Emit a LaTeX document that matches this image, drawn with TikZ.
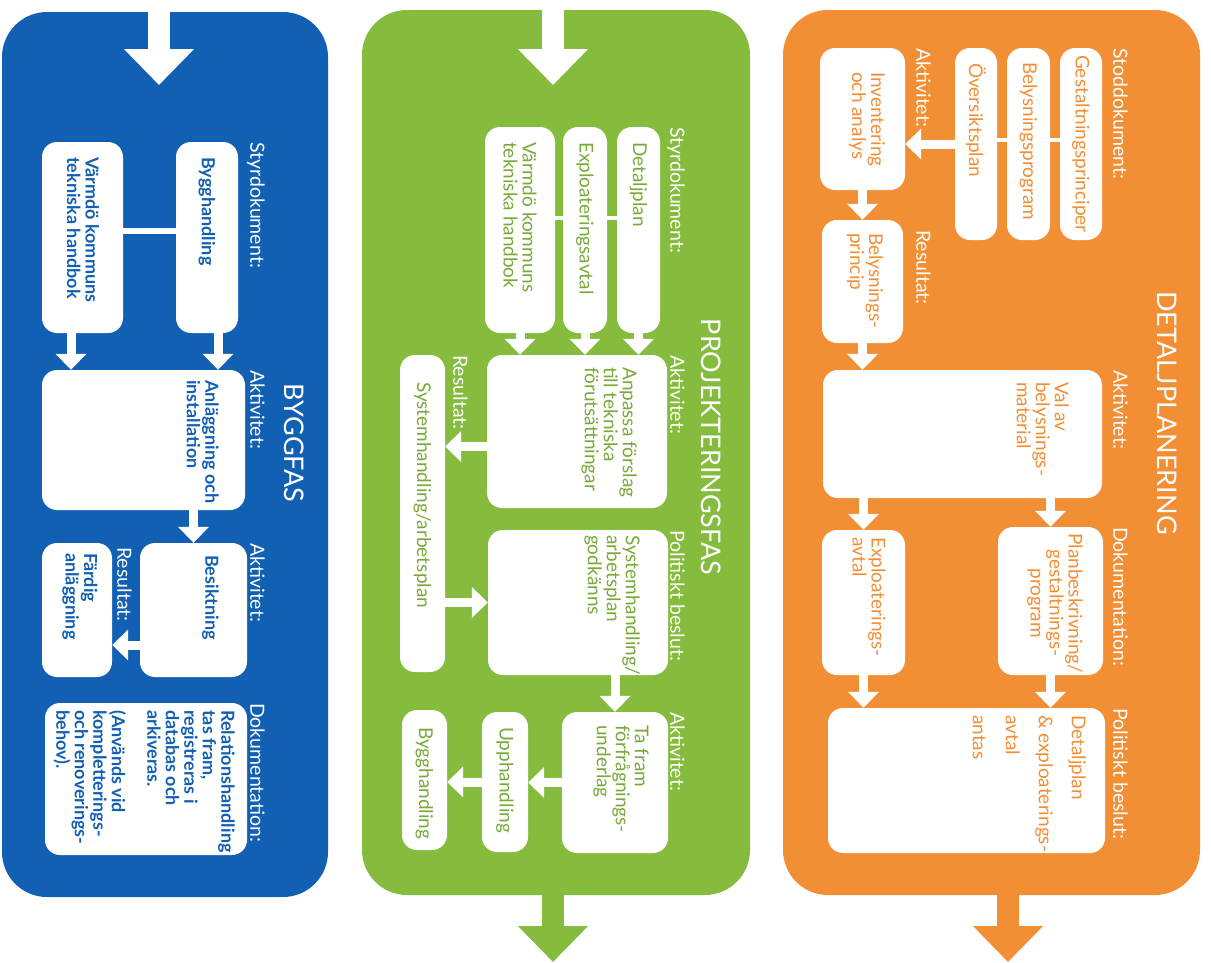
\documentclass[tikz,border=0pt]{standalone}
\usepackage{fontspec}
\setmainfont{Lato}
\usetikzlibrary{arrows.meta,positioning}

\definecolor{byggblue}{RGB}{18,96,180}
\definecolor{projgreen}{RGB}{134,188,62}
\definecolor{detorange}{RGB}{242,142,52}

\tikzset{
  panel/.style={fill=#1, rounded corners=45pt, inner sep=0pt},
  box/.style={fill=white, rounded corners=15pt, inner sep=0pt},
  txt/.style={rotate=-90, inner sep=0pt, align=left, font=\fontsize{19}{19}\selectfont},
  btxt/.style={txt, text=byggblue, font=\fontsize{18}{18.5}\selectfont\bfseries},
  lbl/.style={rotate=-90, inner sep=0pt, anchor=north west, text=white, font=\fontsize{19.5}{20}\selectfont},
  ttl/.style={rotate=-90, inner sep=0pt, text=white, font=\fontsize{27}{30}\selectfont},
  warr/.style={draw=white, line width=9pt, -{Triangle[width=30pt,length=16pt]}},
  bigarr/.style={line width=22pt, -{Triangle[width=68pt,length=36pt]}},
  tie/.style={draw=white, line width=4pt},
}

\begin{document}
\begin{tikzpicture}[x=1pt,y=-1pt]
  \useasboundingbox (0,0) rectangle (1211,962);

  % panels
  \node[panel=byggblue, minimum width=326pt, minimum height=885pt] (bPanel) at (165,454.5) {};
  \node[panel=projgreen, minimum width=388pt, minimum height=885pt] (gPanel) at (556,452.5) {};
  \node[panel=detorange, minimum width=417pt, minimum height=885pt] (oPanel) at (991.5,452.5) {};

  \coordinate (bIn) at (159,0);
  \coordinate (bInTip) at (159,85);
  \coordinate (gIn) at (553,0);
  \coordinate (gInTip) at (553,85);
  \coordinate (gOut) at (553,962);
  \coordinate (oOut) at (1008,962);
  \draw[bigarr, white] (bIn) -- (bInTip);
  \draw[bigarr, white] (gIn) -- (gInTip);
  \draw[bigarr, projgreen] (gOut |- gPanel.south) -- (gOut);
  \draw[bigarr, detorange] (oOut |- oPanel.south) -- (oOut);

  % ---- Byggfas
  \node[ttl] (bTitle) at (294,443) {BYGGFAS};
  \node[box, minimum width=62pt, minimum height=191pt] (bByg) at (207,237.5) {};
  \node[box, minimum width=81pt, minimum height=191pt] (bHand) at (82.5,237.5) {};
  \node[box, minimum width=203pt, minimum height=140pt] (bAnl) at (143.5,440) {};
  \node[box, minimum width=107pt, minimum height=134pt] (bBes) at (193.5,610) {};
  \node[box, minimum width=70pt, minimum height=134pt] (bFard) at (77,610) {};
  \node[box, minimum width=202pt, minimum height=152pt] (bRel) at (146,779) {};

  \node[lbl] (bL1) at (265,142) {Styrdokument:};
  \node[lbl] (bL2) at (265,370) {Aktivitet:};
  \node[lbl] (bL3) at (265,543) {Aktivitet:};
  \node[lbl] (bL4) at (132,547) {Resultat:};
  \node[lbl] (bL5) at (265,703) {Dokumentation:};

  \node[btxt, anchor=west] (bBygT) at (207,157) {Bygghandling};
  \node[btxt, anchor=west] (bHandT) at (83,157) {Värmdö kommuns\\tekniska handbok};
  \node[btxt, anchor=north west] (bAnlT) at (219,380) {Anläggning och\\installation};
  \node[btxt, anchor=north west] (bBesT) at (219,555) {Besiktning};
  \node[btxt, anchor=west] (bFardT) at (80,553) {Färdig\\anläggning};
  \node[btxt, anchor=north west] (bRelT) at (235,710) {Relationshandling\\tas fram,\\registreras i\\databas och\\arkiveras.\\[17pt](Används vid\\kompletterings-\\och renoverings-\\behov).};

  \draw[tie, line width=6pt] ([yshift=6.5pt]bHand.east) -- ([yshift=6.5pt]bByg.west);
  \draw[warr] ([xshift=11pt]bByg.south) -- ([xshift=11pt]bByg.south |- bAnl.north);
  \draw[warr] ([xshift=-11.5pt]bHand.south) -- ([xshift=-11.5pt]bHand.south |- bAnl.north);
  \draw[warr] (bAnl.south -| bBes.north) -- (bBes.north);
  \draw[warr] ([yshift=-35pt]bBes.west) -- ([yshift=-35pt]bBes.west -| bFard.east);

  % ---- Projekteringsfas
  \node[ttl] (gTitle) at (711,447) {PROJEKTERINGSFAS};
  \node[box, minimum width=43pt, minimum height=206pt] (gDet) at (638.5,230) {};
  \node[box, minimum width=44pt, minimum height=206pt] (gExp) at (585,230) {};
  \node[box, minimum width=70pt, minimum height=206pt] (gHand) at (520,230) {};
  \node[box, minimum width=180pt, minimum height=153pt] (gAnp) at (577,431.5) {};
  \node[box, minimum width=45pt, minimum height=317pt] (gSys) at (422.5,513.5) {};
  \node[box, minimum width=180pt, minimum height=145pt] (gGod) at (578,602.5) {};
  \node[box, minimum width=106pt, minimum height=141pt] (gTa) at (615,782.5) {};
  \node[box, minimum width=46pt, minimum height=140pt] (gUpp) at (505,782) {};
  \node[box, minimum width=45pt, minimum height=140pt] (gByg) at (424.5,780) {};

  \node[lbl] (gL1) at (685,127) {Styrdokument:};
  \node[lbl] (gL2) at (685,355) {Aktivitet:};
  \node[lbl] (gL3) at (468,355) {Resultat:};
  \node[lbl] (gL4) at (685,530) {Politiskt beslut:};
  \node[lbl] (gL5) at (685,712) {Aktivitet:};

  \begin{scope}[every node/.append style={text=projgreen!90!black}]
    \node[txt, anchor=west] (gDetT) at (638.5,142) {Detaljplan};
    \node[txt, anchor=west] (gExpT) at (585,142) {Exploateringsavtal};
    \node[txt, anchor=west] (gHandT) at (520,142) {Värmdö kommuns\\tekniska handbok};
    \node[txt, anchor=north west] (gAnpT) at (637,367) {Anpassa förslag\\till tekniska\\förutsättningar};
    \node[txt, anchor=west] (gSysT) at (422.5,382) {Systemhandling/arbetsplan};
    \node[txt, anchor=north west] (gGodT) at (640,535) {Systemhandling/\\arbetsplan\\godkänns};
    \node[txt, anchor=north west] (gTaT) at (649,725) {Ta fram\\förfrågnings-\\underlag};
    \node[txt, anchor=west] (gUppT) at (505,727) {Upphandling};
    \node[txt, anchor=west] (gBygT) at (424.5,727) {Bygghandling};
  \end{scope}

  \draw[tie] ([yshift=12pt]gHand.east) -- ([yshift=12pt]gExp.west);
  \draw[tie] ([yshift=12pt]gExp.east) -- ([yshift=12pt]gDet.west);
  \draw[warr] (gDet.south) -- (gDet.south |- gAnp.north);
  \draw[warr] (gExp.south) -- (gExp.south |- gAnp.north);
  \draw[warr] (gHand.south) -- (gHand.south |- gAnp.north);
  \draw[warr] ([yshift=-15pt]gAnp.west) -- ([yshift=-15pt]gAnp.west -| gSys.east);
  \draw[warr] (gGod.west -| gSys.east) -- (gGod.west);
  \draw[warr] (gGod.south -| gTa.north) -- (gTa.north);
  \draw[warr] (gTa.west) -- (gTa.west -| gUpp.east);
  \draw[warr] (gUpp.west) -- (gUpp.west -| gByg.east);

  % ---- Detaljplanering
  \node[ttl] (oTitle) at (1167,413) {DETALJPLANERING};
  \node[box, minimum width=42pt, minimum height=192pt] (oGes) at (1081,144) {};
  \node[box, minimum width=43pt, minimum height=192pt] (oBel) at (1028.5,144) {};
  \node[box, minimum width=42pt, minimum height=192pt] (oOve) at (976,144) {};
  \node[box, minimum width=85pt, minimum height=142pt] (oInv) at (862.5,119) {};
  \node[box, minimum width=81pt, minimum height=123pt] (oPri) at (862.5,281.5) {};
  \node[box, minimum width=279pt, minimum height=128pt] (oVal) at (962.5,434) {};
  \node[box, minimum width=83pt, minimum height=145pt] (oExp) at (863.5,602.5) {};
  \node[box, minimum width=105pt, minimum height=148pt] (oPlan) at (1050.5,601) {};
  \node[box, minimum width=277pt, minimum height=145pt] (oDet) at (966.5,780.5) {};

  \node[lbl] (oL1) at (1128,48) {Stoddokument:};
  \node[lbl] (oL2) at (931,48) {Aktivitet:};
  \node[lbl] (oL3) at (931,230) {Resultat:};
  \node[lbl] (oL4) at (1128,370) {Aktivitet:};
  \node[lbl] (oL5) at (1128,527) {Dokumentation:};
  \node[lbl] (oL6) at (1128,708) {Politiskt beslut:};

  \begin{scope}[every node/.append style={text=detorange}]
    \node[txt, anchor=west] (oGesT) at (1081,55) {Gestaltningsprinciper};
    \node[txt, anchor=west] (oBelT) at (1028.5,62) {Belysningsprogram};
    \node[txt, anchor=west] (oOveT) at (976,63) {Översiktsplan};
    \node[txt, anchor=west] (oInvT) at (867,72) {Inventering\\och analys};
    \node[txt, anchor=west] (oPriT) at (865,233) {Belysnings-\\princip};
    \node[txt, anchor=north west] (oValT) at (1069,382) {Val av\\belysnings-\\material};
    \node[txt, anchor=west] (oExpT) at (869,537) {Exploaterings-\\avtal};
    \node[txt, anchor=west, align=center] (oPlanT) at (1055,533) {Planbeskrivning/\\gestaltnings-\\program};
    \node[txt, anchor=north west, font=\fontsize{19}{33}\selectfont] (oDetT) at (1086,715) {Detaljplan\\\& exploaterings-\\avtal\\antas};
  \end{scope}

  \draw[tie] ([yshift=4pt]oOve.east) -- ([yshift=4pt]oBel.west);
  \draw[tie] ([yshift=4pt]oBel.east) -- ([yshift=4pt]oGes.west);
  \draw[warr] (oOve.west) -- (oOve.west -| oInv.east);
  \draw[warr] (oInv.south) -- (oPri.north);
  \draw[warr] (oPri.south) -- (oPri.south |- oVal.north);
  \draw[warr] (oExp.north |- oVal.south) -- (oExp.north);
  \draw[warr] (oPlan.north |- oVal.south) -- (oPlan.north);
  \draw[warr] (oExp.south) -- (oExp.south |- oDet.north);
  \draw[warr] (oPlan.south) -- (oPlan.south |- oDet.north);
\end{tikzpicture}
\end{document}
